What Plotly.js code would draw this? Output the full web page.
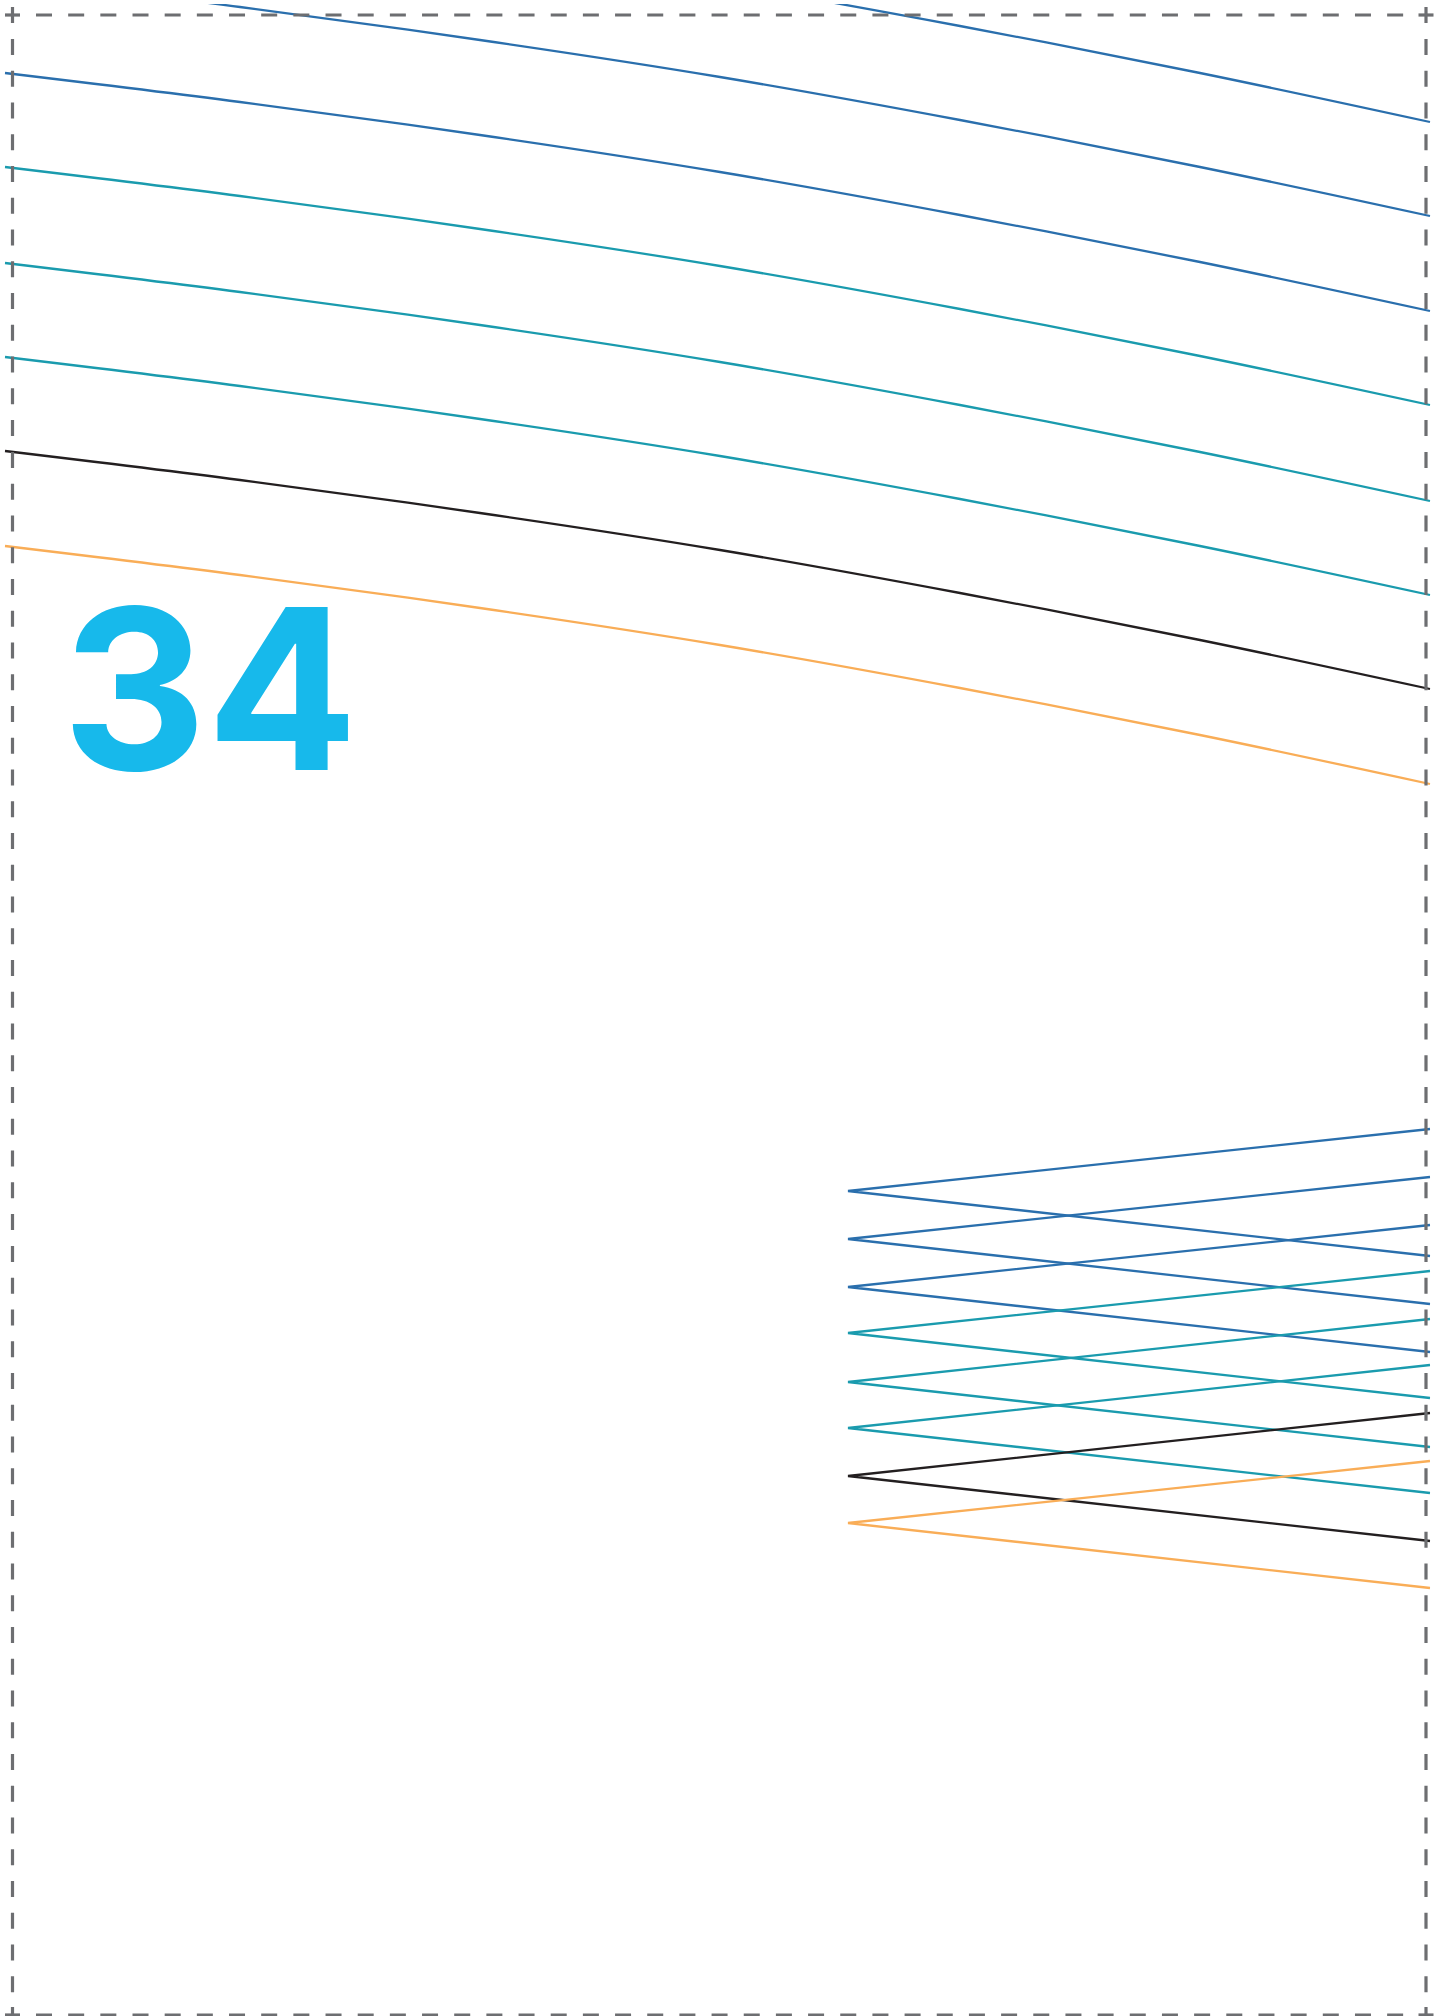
<!DOCTYPE html>
<html>
<head>
<meta charset="utf-8">
<script src="https://cdn.plot.ly/plotly-3.0.1.min.js"></script>
<style>
  html, body { margin: 0; padding: 0; background: #ffffff; overflow: hidden; }
  #chart { width: 1448px; height: 2016px; }
</style>
</head>
<body>
<div id="chart"></div>
<script>
// ---- Data (page pixel coordinates) ----
// Upper sweeping curves: y sampled at these x positions
const curveX = [5, 240, 480, 720, 960, 1200, 1430];
const blueCurve1 = [-116, -87, -54, -17, 26, 73, 122];
const blueCurve2 = [-22, 7, 40, 77, 120, 167, 216];
const blueCurve3 = [73, 102, 135, 172, 215, 262, 311];
const tealCurve1 = [167, 196, 229, 266, 309, 356, 405];
const tealCurve2 = [263, 292, 325, 362, 405, 452, 501];
const tealCurve3 = [357, 386, 419, 456, 499, 546, 595];
const blackCurve = [451, 480, 513, 550, 593, 640, 689];
const orangeCurve = [546, 575, 608, 645, 688, 735, 784];

// Lower chevrons ("<" shapes): vertex x, arm end x
const chevronVertexX = 848;
const chevronEndX = 1430;
const chevronUpperEndY = [1129, 1177, 1225, 1271, 1319, 1365, 1413, 1461];
const chevronVertexY   = [1191, 1239, 1287, 1333, 1382, 1428, 1476, 1523];
const chevronLowerEndY = [1256, 1304, 1352, 1398, 1447, 1493, 1541, 1588];

const pageNumber = "34";

// ---- Styles ----
const BLUE = "#2a6fad";
const TEAL = "#1a9bae";
const BLACK = "#231f20";
const ORANGE = "#f9ad57";
const GRAY = "#6d6e71";
const CYAN = "#17b9eb";

const curveSeries = [
  [blueCurve1, BLUE], [blueCurve2, BLUE], [blueCurve3, BLUE],
  [tealCurve1, TEAL], [tealCurve2, TEAL], [tealCurve3, TEAL],
  [blackCurve, BLACK], [orangeCurve, ORANGE]
];
const chevronColors = [BLUE, BLUE, BLUE, TEAL, TEAL, TEAL, BLACK, ORANGE];

const traces = [];
curveSeries.forEach(([ys, col]) => {
  traces.push({
    type: "scatter", mode: "lines", x: curveX, y: ys,
    line: { color: col, width: 2.3, shape: "spline", smoothing: 1 },
    hoverinfo: "skip"
  });
});
chevronVertexY.forEach((vy, i) => {
  traces.push({
    type: "scatter", mode: "lines",
    x: [chevronEndX, chevronVertexX, chevronEndX],
    y: [chevronUpperEndY[i], vy, chevronLowerEndY[i]],
    line: { color: chevronColors[i], width: 2.3 },
    hoverinfo: "skip"
  });
});

// Dashed crop-style border with corner crosses
const L = 12.5, R = 1426, T = 15, B = 2015;
const dashH = "16px,16.17px", dashV = "16px,15.76px";
const bw = 3.2;
const shapes = [
  { type: "line", x0: 36, x1: 1405, y0: T, y1: T, line: { color: GRAY, width: bw, dash: dashH } },
  { type: "line", x0: 36, x1: 1405, y0: B, y1: B, line: { color: GRAY, width: bw, dash: dashH } },
  { type: "line", x0: L, x1: L, y0: 39, y1: 1995, line: { color: GRAY, width: bw, dash: dashV } },
  { type: "line", x0: R, x1: R, y0: 39, y1: 1995, line: { color: GRAY, width: bw, dash: dashV } }
];
[[L, T], [R, T], [L, B], [R, B]].forEach(([cx, cy]) => {
  shapes.push({ type: "line", x0: cx - 7.5, x1: cx + 7.5, y0: cy, y1: cy, line: { color: GRAY, width: bw } });
  shapes.push({ type: "line", x0: cx, x1: cx, y0: cy - 8, y1: cy + 8, line: { color: GRAY, width: bw } });
});
shapes.forEach(s => { s.xref = "x"; s.yref = "y"; s.layer = "above"; });

const layout = {
  width: 1448, height: 2016,
  margin: { l: 0, r: 0, t: 4, b: 0, pad: 0 },
  paper_bgcolor: "#ffffff", plot_bgcolor: "#ffffff",
  showlegend: false,
  xaxis: { range: [0, 1448], visible: false, fixedrange: true },
  yaxis: { range: [2016, 4], visible: false, fixedrange: true },
  shapes: shapes,
  annotations: [{
    x: 60, y: 688, xref: "x", yref: "y",
    xanchor: "left", yanchor: "middle",
    text: pageNumber, showarrow: false,
    font: { family: "Inter, 'Open Sans', sans-serif", size: 224, color: CYAN, weight: 700 }
  }]
};

Plotly.newPlot("chart", traces, layout, { staticPlot: true, displayModeBar: false });
</script>
</body>
</html>
